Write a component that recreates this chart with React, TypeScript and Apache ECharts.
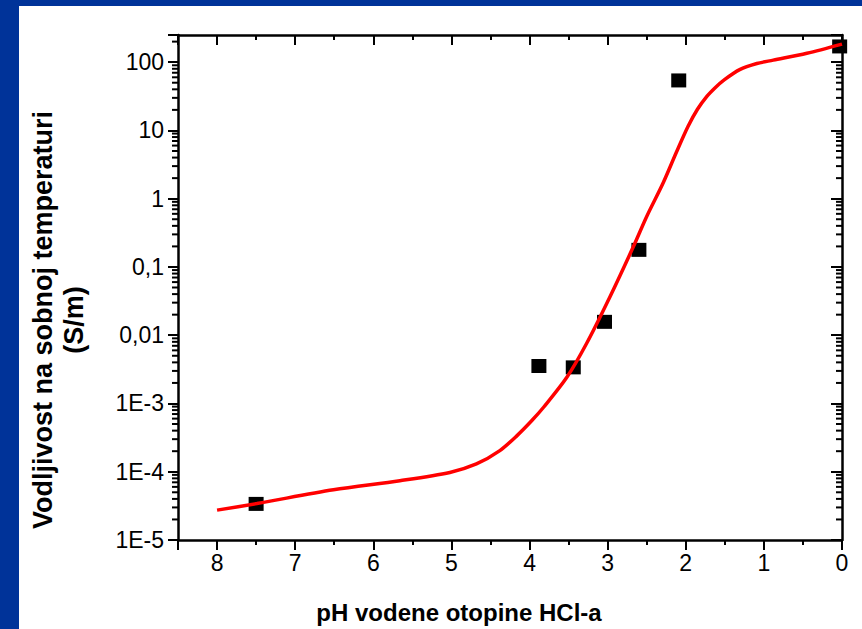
import React, { useEffect, useRef } from "react";
import * as echarts from "echarts";

// measured squares (pH, conductivity S/m)
const pointPH = [7.5, 3.88, 3.44, 3.04, 2.6, 2.09, 0.03];
const pointSigma = [3.38e-5, 3.54e-3, 3.38e-3, 0.0157, 0.178, 54, 170];

// fitted red curve (pH, conductivity S/m)
const curvePH = [8.0, 7.49, 6.51, 5.66, 5.02, 4.68, 4.38, 4.16, 3.97, 3.82, 3.52, 3.27, 2.97, 2.67, 2.5, 2.29, 2.12, 1.97, 1.85, 1.73, 1.62, 1.52, 1.31, 1.09, 0.88, 0.45, 0.0];
const curveSigma = [2.74e-5, 3.42e-5, 5.43e-5, 7.38e-5, 9.77e-5, 1.3e-4, 2.04e-4, 3.38e-4, 5.62e-4, 8.8e-4, 2.44e-3, 7.55e-3, 0.0366, 0.199, 0.55, 1.7, 4.79, 11.5, 20.4, 31.6, 42.7, 53.7, 77.6, 95.5, 107, 135, 184];

// y tick labels from 1E-5 up to 100
const yTickLabels = ["1E-5", "1E-4", "1E-3", "0,01", "0,1", "1", "10", "100"];
const yExponents = [-5, -4, -3, -2, -1, 0, 1, 2];
const minorMultipliers = [2, 3, 4, 5, 6, 7, 8, 9];

const X_MIN = 0;
const X_MAX = 8.5;
const Y_MIN = 1e-5;
const Y_MAX = 250;

const FONT = '"Liberation Sans", Arial, Helvetica, sans-serif';

export default function App() {
  const ref = useRef<HTMLDivElement>(null);

  useEffect(() => {
    if (!ref.current) return;
    const chart = echarts.init(ref.current, undefined, { renderer: "svg" });

    const minorValues: number[] = [];
    yExponents.forEach((e) => {
      minorMultipliers.forEach((m) => {
        const v = m * Math.pow(10, e);
        if (v < Y_MAX) minorValues.push(v);
      });
    });

    const yFormatter = (v: number) => {
      const e = Math.log10(v);
      const r = Math.round(e);
      if (Math.abs(e - r) > 1e-6) return "";
      const idx = yExponents.indexOf(r);
      return idx >= 0 ? yTickLabels[idx] : "";
    };
    const xFormatter = (v: number) =>
      Math.abs(v - Math.round(v)) < 1e-6 ? String(Math.round(v)) : "";

    const axisLine = { show: true, onZero: false, lineStyle: { color: "#000000", width: 2.5, opacity: 1 } };
    const tickStyle = { color: "#000000", width: 2, opacity: 1 };

    const minorTickSeries = (xVal: number) => ({
      type: "scatter",
      silent: true,
      clip: false,
      symbol: "rect",
      symbolSize: [6, 2],
      symbolOffset: [-3, 0],
      itemStyle: { color: "#000", opacity: 1 },
      data: minorValues.map((v) => [xVal, v]),
      z: 1,
      tooltip: { show: false },
    });

    chart.setOption({
      animation: false,
      backgroundColor: "#ffffff",
      grid: { left: 178, right: 20, top: 35, bottom: 89, containLabel: false },
      xAxis: [
        {
          type: "value",
          position: "bottom",
          inverse: true,
          min: X_MIN,
          max: X_MAX,
          interval: 1,
          axisLine,
          axisTick: { show: true, inside: false, length: 10, lineStyle: tickStyle },
          minorTick: { show: true, splitNumber: 2, length: 5, lineStyle: tickStyle },
          splitLine: { show: false },
          axisLabel: {
            formatter: xFormatter,
            fontSize: 23,
            fontFamily: FONT,
            color: "#000",
            margin: 11,
          },
        },
        {
          type: "value",
          position: "top",
          inverse: true,
          min: X_MIN,
          max: X_MAX,
          interval: 1,
          axisLine,
          axisTick: { show: true, inside: true, length: 10, lineStyle: tickStyle },
          minorTick: { show: true, splitNumber: 2, length: 5, lineStyle: tickStyle },
          splitLine: { show: false },
          axisLabel: { show: false },
        },
      ],
      yAxis: [
        {
          type: "log",
          position: "left",
          min: Y_MIN,
          max: Y_MAX,
          logBase: 10,
          axisLine,
          axisTick: { show: true, inside: false, length: 10, lineStyle: tickStyle },
          splitLine: { show: false },
          axisLabel: {
            formatter: yFormatter,
            fontSize: 23,
            fontFamily: FONT,
            color: "#000",
            margin: 14,
          },
        },
        {
          type: "log",
          position: "right",
          min: Y_MIN,
          max: Y_MAX,
          logBase: 10,
          axisLine,
          axisTick: { show: true, inside: true, length: 11, lineStyle: tickStyle },
          splitLine: { show: false },
          axisLabel: { show: false },
        },
      ],
      graphic: [
        { type: "rect", shape: { x: 0, y: 0, width: 862, height: 6 }, style: { fill: "#003399" }, silent: true },
        { type: "rect", shape: { x: 0, y: 0, width: 19, height: 629 }, style: { fill: "#003399" }, silent: true },
        {
          type: "text",
          x: 459,
          y: 612,
          style: {
            text: "pH vodene otopine HCl-a",
            fontSize: 24,
            fontWeight: "bold",
            fontFamily: FONT,
            fill: "#000",
            align: "center",
            verticalAlign: "middle",
          },
        },
        {
          type: "text",
          x: 58,
          y: 320,
          rotation: Math.PI / 2,
          style: {
            text: "Vodljivost na sobnoj temperaturi\n(S/m)",
            fontSize: 27,
            fontWeight: "bold",
            fontFamily: FONT,
            fill: "#000",
            align: "center",
            verticalAlign: "middle",
            lineHeight: 31,
          },
        },
      ],
      series: [
        minorTickSeries(X_MAX),
        minorTickSeries(X_MIN),
        {
          type: "scatter",
          name: "measured",
          symbol: "rect",
          symbolSize: [15, 14],
          itemStyle: { color: "#000", opacity: 1 },
          data: pointPH.map((p, i) => [p, pointSigma[i]]),
          z: 2,
        },
        {
          type: "line",
          name: "fit",
          smooth: 0.3,
          showSymbol: false,
          lineStyle: { color: "#ff0000", width: 3.5 },
          data: curvePH.map((p, i) => [p, curveSigma[i]]),
          z: 3,
        },
      ],
    });

    return () => chart.dispose();
  }, []);

  return (
    <div
      ref={ref}
      style={{ position: "fixed", left: 0, top: 0, width: 862, height: 629 }}
    />
  );
}
